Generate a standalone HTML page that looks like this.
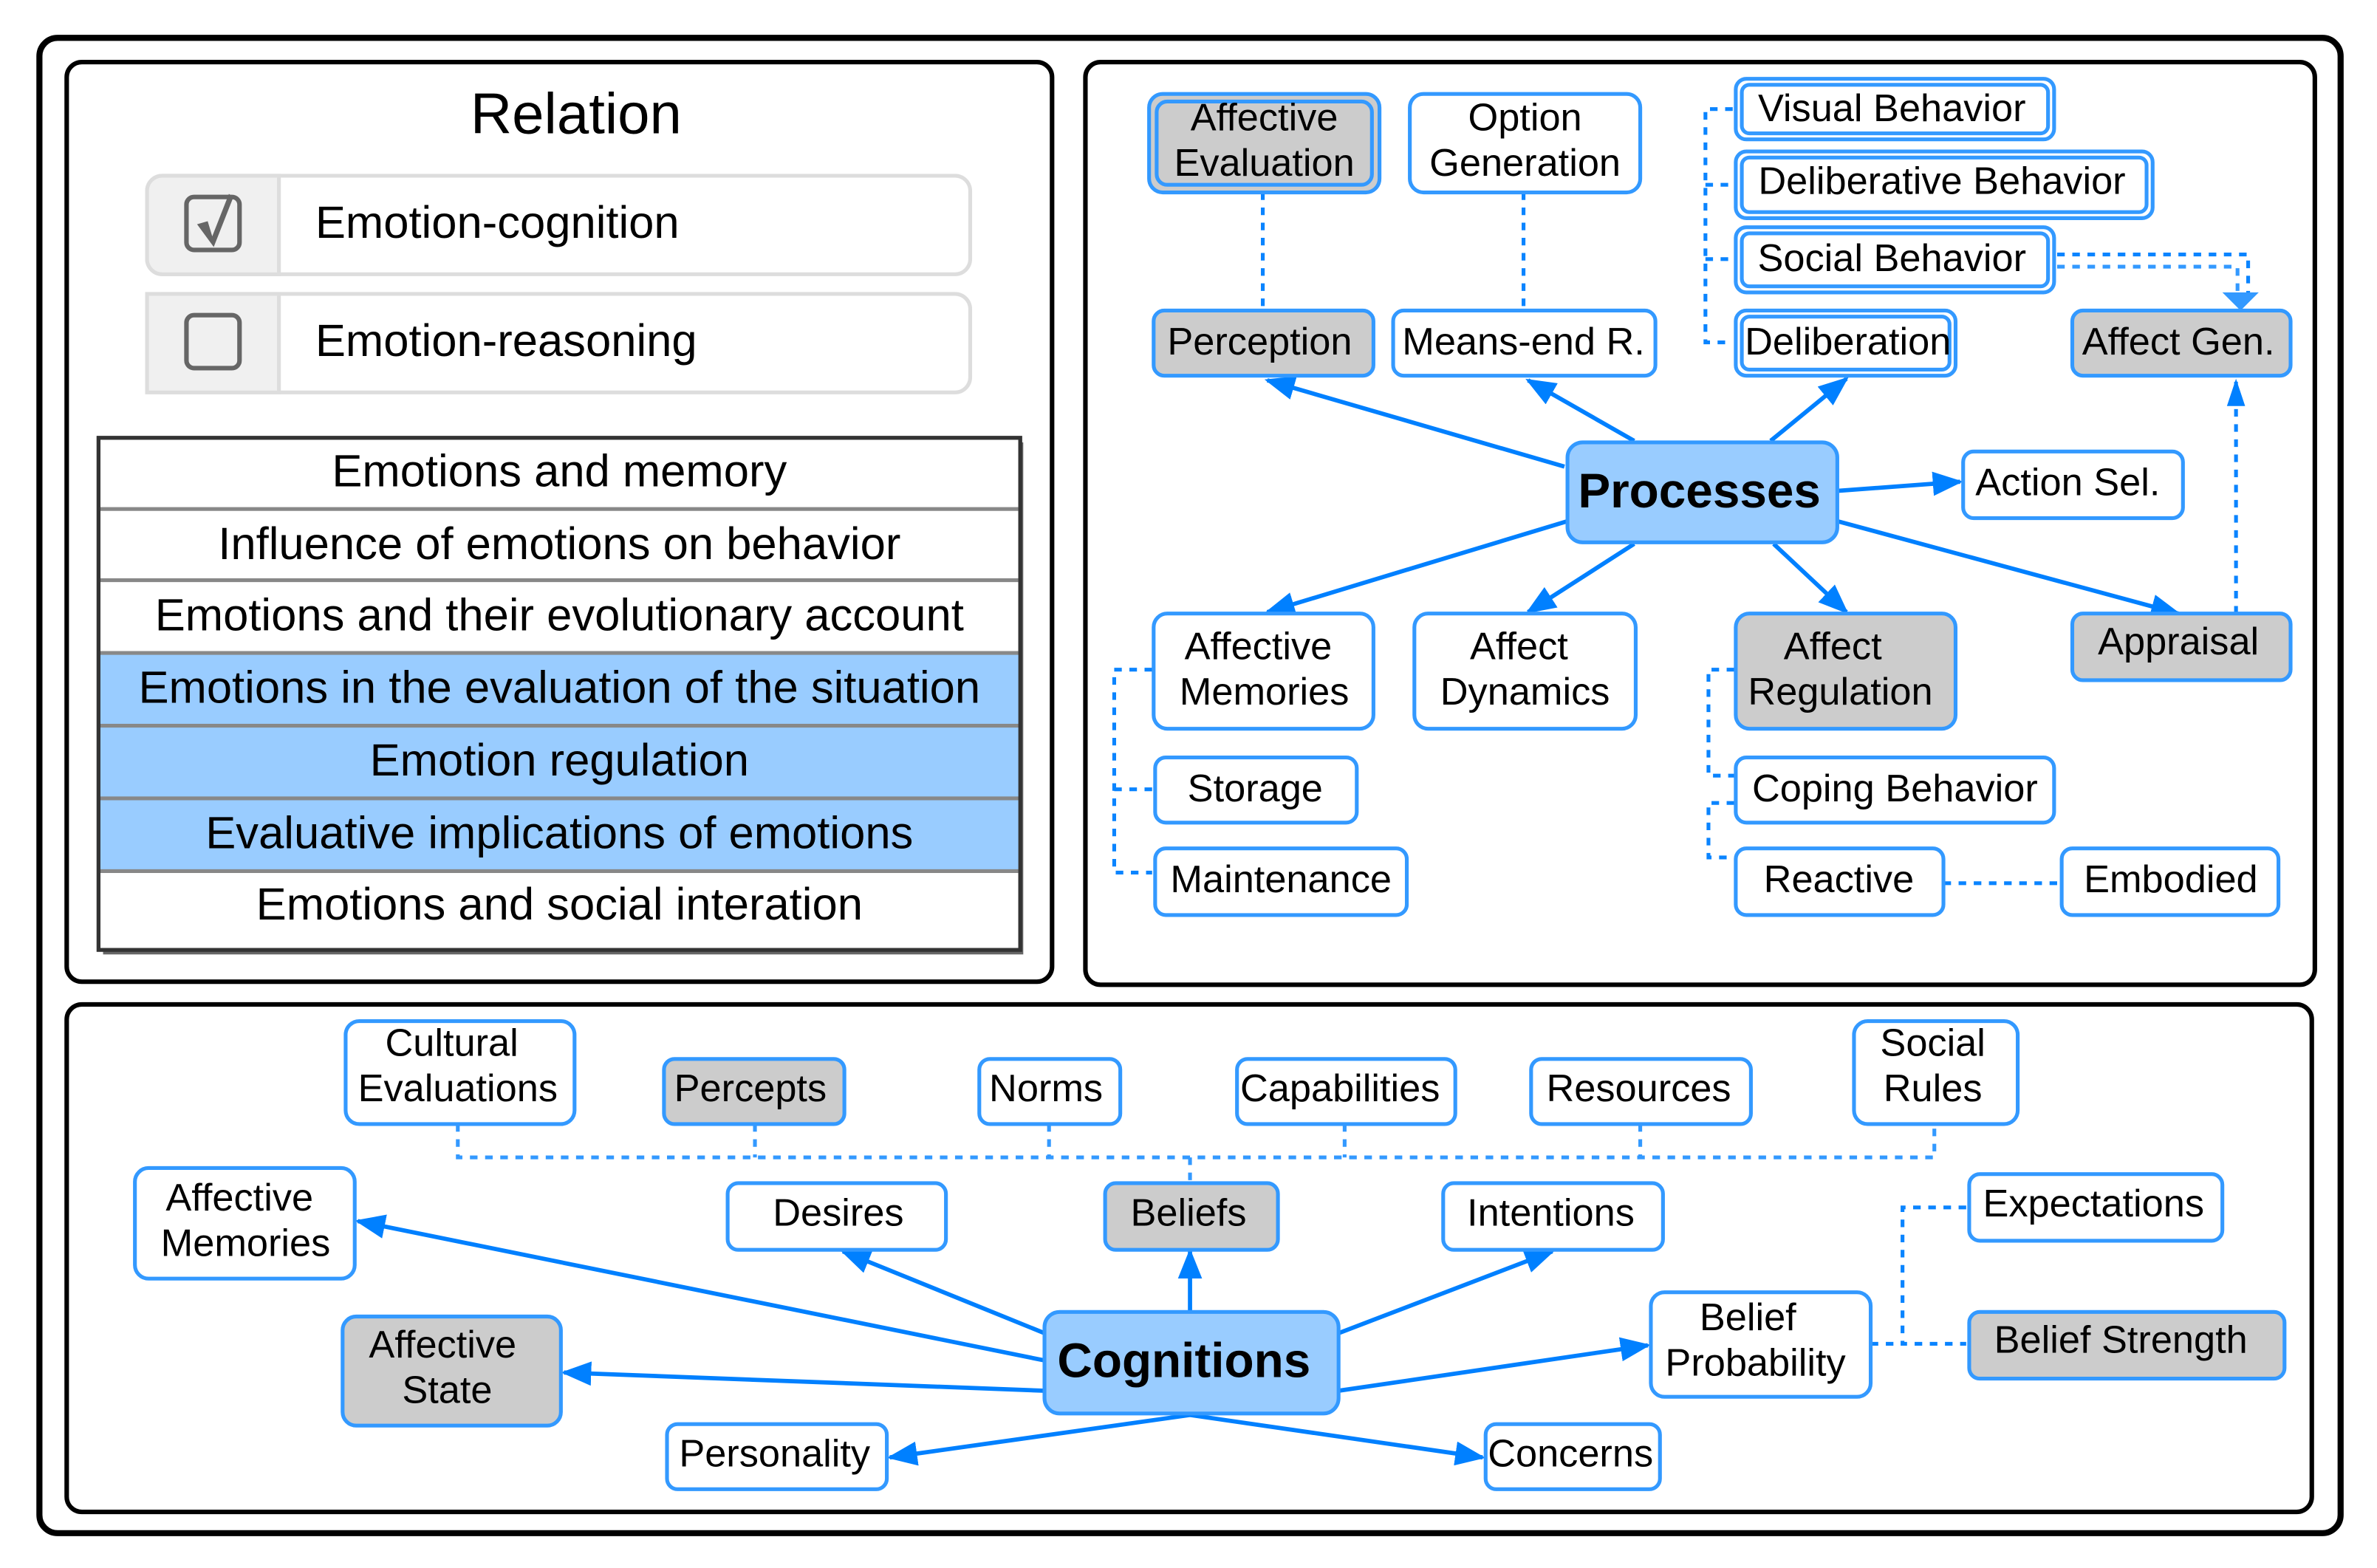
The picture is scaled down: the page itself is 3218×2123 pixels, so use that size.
<!DOCTYPE html>
<html><head><meta charset="utf-8"><style>
html,body{margin:0;padding:0;background:#fff;}
svg{display:block;}
text{font-family:"Liberation Sans",Arial,sans-serif;fill:#000;}
</style></head><body>
<svg xmlns="http://www.w3.org/2000/svg" width="3218" height="2123" viewBox="0 0 1568 1035" preserveAspectRatio="none">
<defs>
<marker id="ah" markerUnits="userSpaceOnUse" markerWidth="20" markerHeight="16" refX="18" refY="8" orient="auto">
<path d="M0,0 L20,8 L0,16 Z" fill="#0080ff"/></marker>
</defs>
<rect width="1568" height="1035" fill="#fff"/>
<rect x="26" y="25" width="1518" height="987" rx="12" fill="none" stroke="#000" stroke-width="4"/>
<rect x="44" y="41" width="650" height="607" rx="10" fill="none" stroke="#000" stroke-width="3"/>
<rect x="716" y="41" width="811" height="609" rx="10" fill="none" stroke="#000" stroke-width="3"/>
<rect x="44" y="663" width="1481" height="335" rx="10" fill="none" stroke="#000" stroke-width="3"/>

<text x="380" y="88" font-size="38" text-anchor="middle">Relation</text>
<g stroke="#ddd" stroke-width="2.5">
<rect x="97" y="116" width="543" height="65" rx="10" fill="#fff"/>
<path d="M97,126 a10,10 0 0 1 10,-10 H184 V181 H107 a10,10 0 0 1 -10,-10 Z" fill="#f0f0f0"/>
<rect x="97" y="194" width="543" height="65" rx="10" fill="#fff"/>
<path d="M97,194 H184 V259 H97 Z" fill="#f0f0f0"/>
</g>
<rect x="123" y="130" width="35" height="35" rx="5" fill="none" stroke="#666" stroke-width="3"/>
<path d="M130,148 L137,146 L140,156 L151,128 L154,130 L141,163 Z" fill="#666"/>
<rect x="123" y="208" width="35" height="35" rx="5" fill="none" stroke="#666" stroke-width="3"/>
<text x="208" y="157" font-size="30">Emotion-cognition</text>
<text x="208" y="235" font-size="30">Emotion-reasoning</text>

<rect x="68" y="292" width="607" height="338" fill="#666"/>
<rect x="65" y="289" width="608" height="338" fill="#fff" stroke="#333" stroke-width="2.5"/>
<rect x="66" y="431" width="608" height="48" fill="#99ccff"/>
<rect x="66" y="479" width="608" height="48" fill="#99ccff"/>
<rect x="66" y="527" width="608" height="48" fill="#99ccff"/>
<g stroke="#888" stroke-width="2.5">
<line x1="66" y1="336" x2="673" y2="336"/><line x1="66" y1="383" x2="673" y2="383"/>
<line x1="66" y1="431" x2="673" y2="431"/><line x1="66" y1="479" x2="673" y2="479"/>
<line x1="66" y1="527" x2="673" y2="527"/><line x1="66" y1="575" x2="673" y2="575"/>
</g>
<rect x="65" y="289" width="608" height="338" fill="none" stroke="#333" stroke-width="2.5"/>
<g font-size="30" text-anchor="middle">
<text x="369" y="321">Emotions and memory</text>
<text x="369" y="369">Influence of emotions on behavior</text>
<text x="369" y="416">Emotions and their evolutionary account</text>
<text x="369" y="464">Emotions in the evaluation of the situation</text>
<text x="369" y="512">Emotion regulation</text>
<text x="369" y="560">Evaluative implications of emotions</text>
<text x="369" y="607">Emotions and social interation</text>
</g>

<g fill="none" stroke="#0a84ff" stroke-width="2.5" stroke-dasharray="5 5">
<line x1="833" y1="127" x2="833" y2="205"/>
<line x1="1005" y1="127" x2="1005" y2="205"/>
<path d="M1143,72 H1125 V226 H1143"/>
<path d="M1125,122 H1143"/><path d="M1125,171 H1143"/>
<path d="M1357,168 H1483 V195"/>
<path d="M1357,176 H1476 V195" stroke="#3399ff"/>
<path d="M1475,405 V252"/>
<path d="M760,442 H735 V576 H760"/><path d="M735,521 H760"/>
<path d="M1144,442 H1127 V512 H1144"/>
<path d="M1144,530 H1127 V566 H1144"/>
<path d="M1282,583 H1360"/>
</g>
<path d="M1466,193 L1490,193 L1478,205 Z" fill="#3399ff"/>
<path d="M1469,268 L1475,250 L1481,268 Z" fill="#0080ff"/>

<g stroke="#0080ff" stroke-width="2.8" fill="none" marker-end="url(#ah)">
<line x1="1032" y1="308" x2="836" y2="251"/>
<line x1="1078" y1="291" x2="1008" y2="251"/>
<line x1="1168" y1="291" x2="1218" y2="250"/>
<line x1="1212" y1="324" x2="1293" y2="318"/>
<line x1="1034" y1="344" x2="836" y2="404"/>
<line x1="1078" y1="359" x2="1008" y2="404"/>
<line x1="1170" y1="359" x2="1218" y2="404"/>
<line x1="1212" y1="344" x2="1437" y2="405"/>
</g>

<g stroke="#3399ff" stroke-width="2.5">
<rect x="758" y="62" width="152" height="65" rx="9" fill="#ccc"/>
<rect x="763" y="67" width="142" height="55" rx="7" fill="#ccc"/>
<rect x="930" y="62" width="152" height="65" rx="9" fill="#fff"/>
<rect x="1145" y="52" width="210" height="40" rx="7" fill="#fff"/>
<rect x="1149" y="56" width="202" height="32" rx="5" fill="#fff"/>
<rect x="1145" y="100" width="275" height="44" rx="7" fill="#fff"/>
<rect x="1149" y="104" width="267" height="36" rx="5" fill="#fff"/>
<rect x="1145" y="150" width="210" height="43" rx="7" fill="#fff"/>
<rect x="1149" y="154" width="202" height="35" rx="5" fill="#fff"/>
<rect x="761" y="205" width="145" height="43" rx="7" fill="#ccc"/>
<rect x="919" y="205" width="173" height="43" rx="7" fill="#fff"/>
<rect x="1145" y="205" width="145" height="43" rx="7" fill="#fff"/>
<rect x="1149" y="209" width="137" height="35" rx="5" fill="#fff"/>
<rect x="1367" y="205" width="144" height="43" rx="7" fill="#ccc"/>
<rect x="1034" y="292" width="178" height="66" rx="10" fill="#99ccff"/>
<rect x="1295" y="298" width="145" height="44" rx="7" fill="#fff"/>
<rect x="761" y="405" width="145" height="76" rx="9" fill="#fff"/>
<rect x="933" y="405" width="146" height="76" rx="9" fill="#fff"/>
<rect x="1145" y="405" width="145" height="76" rx="9" fill="#ccc"/>
<rect x="1367" y="405" width="144" height="44" rx="7" fill="#ccc"/>
<rect x="762" y="500" width="133" height="43" rx="7" fill="#fff"/>
<rect x="762" y="560" width="166" height="44" rx="7" fill="#fff"/>
<rect x="1145" y="500" width="210" height="43" rx="7" fill="#fff"/>
<rect x="1145" y="560" width="137" height="44" rx="7" fill="#fff"/>
<rect x="1360" y="560" width="143" height="44" rx="7" fill="#fff"/>
</g>
<g font-size="25.5" text-anchor="middle">
<text x="834" y="86">Affective</text><text x="834" y="116">Evaluation</text>
<text x="1006" y="86">Option</text><text x="1006" y="116">Generation</text>
<text x="1248" y="80">Visual Behavior</text>
<text x="1281" y="128">Deliberative Behavior</text>
<text x="1248" y="179">Social Behavior</text>
<text x="831" y="234">Perception</text>
<text x="1005" y="234">Means-end R.</text>
<text x="1219" y="234">Deliberation</text>
<text x="1437" y="234">Affect Gen.</text>
<text x="1121" y="335" font-size="32" font-weight="bold">Processes</text>
<text x="1364" y="327">Action Sel.</text>
<text x="830" y="435">Affective</text><text x="834" y="465">Memories</text>
<text x="1002" y="435">Affect</text><text x="1006" y="465">Dynamics</text>
<text x="1209" y="435">Affect</text><text x="1214" y="465">Regulation</text>
<text x="1437" y="432">Appraisal</text>
<text x="828" y="529">Storage</text>
<text x="845" y="589">Maintenance</text>
<text x="1250" y="529">Coping Behavior</text>
<text x="1213" y="589">Reactive</text>
<text x="1432" y="589">Embodied</text>
</g>

<g fill="none" stroke="#3399ff" stroke-width="2.5" stroke-dasharray="5 5">
<path d="M302,742 V764 H1276 V742"/>
<path d="M498,742 V764"/><path d="M692,742 V764"/><path d="M887,742 V764"/><path d="M1082,742 V764"/>
<path d="M785,764 V781"/>
</g>
<g fill="none" stroke="#0a84ff" stroke-width="2.5" stroke-dasharray="5 5">
<path d="M1297,797 H1255 V887 H1297"/><path d="M1234,887 H1255"/>
</g>
<g stroke="#0080ff" stroke-width="2.8" fill="none" marker-end="url(#ah)">
<line x1="689" y1="898" x2="236" y2="806"/>
<line x1="689" y1="880" x2="556" y2="826"/>
<line x1="785" y1="866" x2="785" y2="826"/>
<line x1="883" y1="880" x2="1024" y2="826"/>
<line x1="689" y1="918" x2="372" y2="906"/>
<line x1="883" y1="918" x2="1087" y2="888"/>
<line x1="785" y1="934" x2="587" y2="962"/>
<line x1="785" y1="934" x2="978" y2="962"/>
</g>
<g stroke="#3399ff" stroke-width="2.5">
<rect x="228" y="674" width="151" height="68" rx="9" fill="#fff"/>
<rect x="438" y="699" width="119" height="43" rx="7" fill="#ccc"/>
<rect x="646" y="699" width="93" height="43" rx="7" fill="#fff"/>
<rect x="816" y="699" width="144" height="43" rx="7" fill="#fff"/>
<rect x="1010" y="699" width="145" height="43" rx="7" fill="#fff"/>
<rect x="1223" y="674" width="108" height="68" rx="9" fill="#fff"/>
<rect x="89" y="771" width="145" height="73" rx="9" fill="#fff"/>
<rect x="480" y="781" width="144" height="44" rx="7" fill="#fff"/>
<rect x="729" y="781" width="114" height="44" rx="7" fill="#ccc"/>
<rect x="952" y="781" width="145" height="44" rx="7" fill="#fff"/>
<rect x="1299" y="775" width="167" height="44" rx="7" fill="#fff"/>
<rect x="226" y="869" width="144" height="72" rx="9" fill="#ccc"/>
<rect x="689" y="866" width="194" height="67" rx="10" fill="#99ccff"/>
<rect x="1089" y="853" width="145" height="69" rx="9" fill="#fff"/>
<rect x="1299" y="866" width="208" height="44" rx="7" fill="#ccc"/>
<rect x="440" y="940" width="145" height="43" rx="7" fill="#fff"/>
<rect x="980" y="940" width="115" height="43" rx="7" fill="#fff"/>
</g>
<g font-size="25.5" text-anchor="middle">
<text x="298" y="697">Cultural</text><text x="302" y="727">Evaluations</text>
<text x="495" y="727">Percepts</text>
<text x="690" y="727">Norms</text>
<text x="884" y="727">Capabilities</text>
<text x="1081" y="727">Resources</text>
<text x="1275" y="697">Social</text><text x="1275" y="727">Rules</text>
<text x="158" y="799">Affective</text><text x="162" y="829">Memories</text>
<text x="553" y="809">Desires</text>
<text x="784" y="809">Beliefs</text>
<text x="1023" y="809">Intentions</text>
<text x="1381" y="803">Expectations</text>
<text x="292" y="896">Affective</text><text x="295" y="926">State</text>
<text x="781" y="909" font-size="32" font-weight="bold">Cognitions</text>
<text x="1153" y="878">Belief</text><text x="1158" y="908">Probability</text>
<text x="1399" y="893">Belief Strength</text>
<text x="511" y="968">Personality</text>
<text x="1036" y="968">Concerns</text>
</g>
</svg>
</body></html>
